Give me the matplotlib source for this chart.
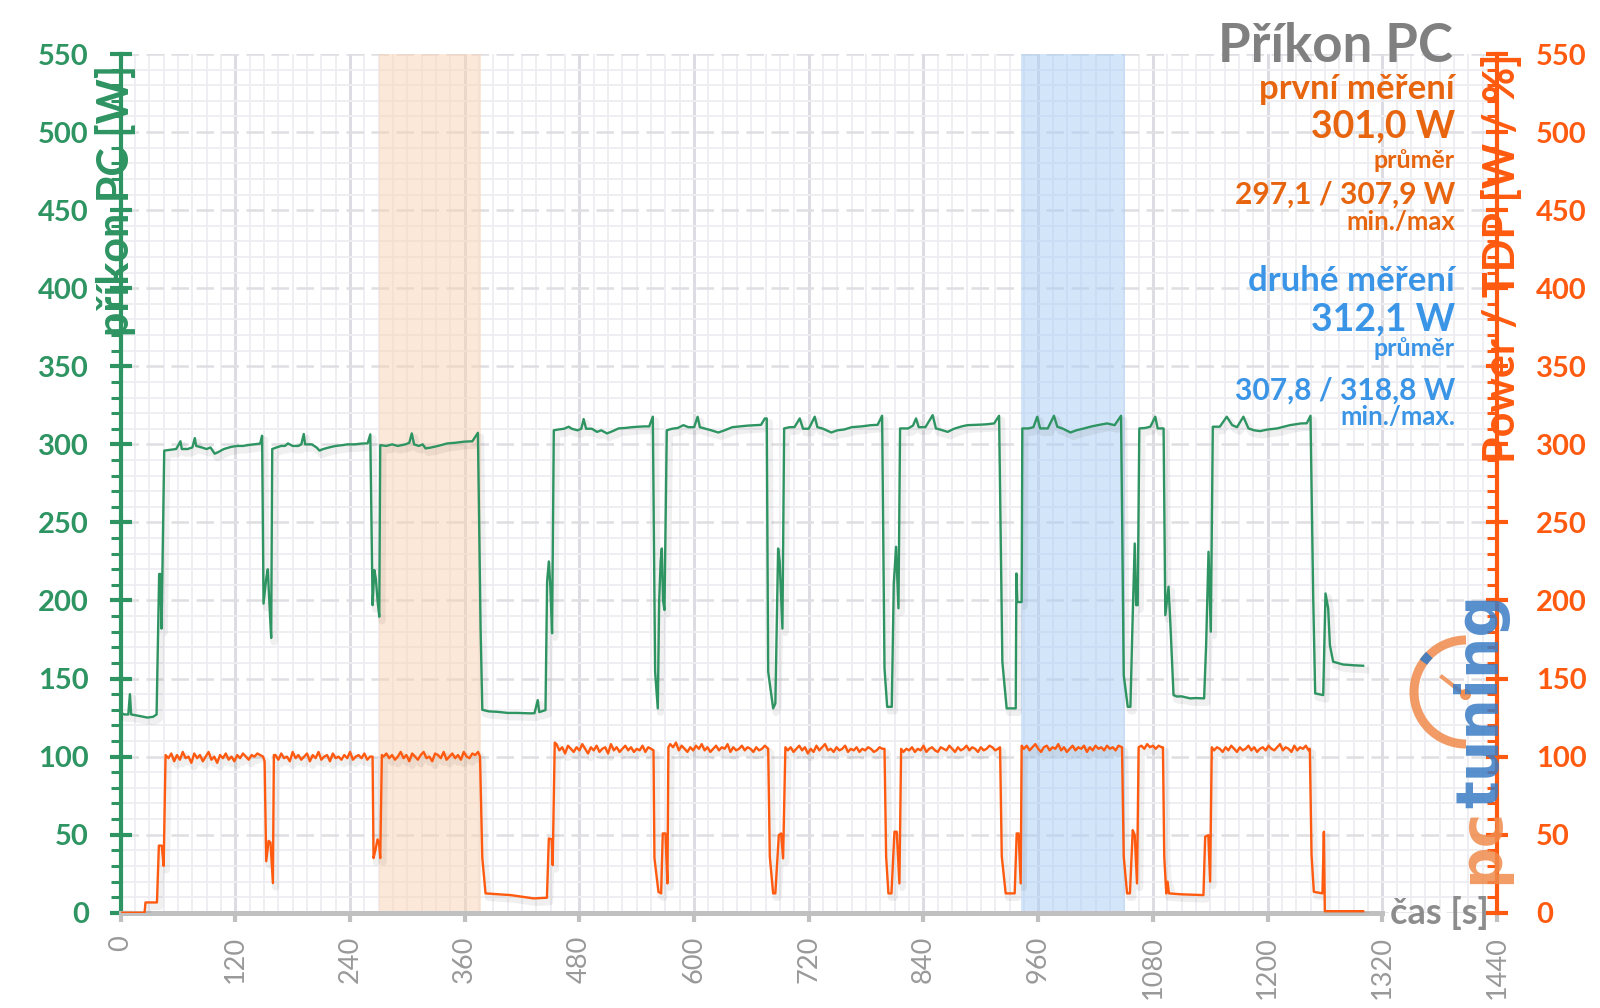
import matplotlib
matplotlib.use("Agg")
import matplotlib.pyplot as plt
import matplotlib.patheffects as pe
from matplotlib.patches import Arc
from matplotlib.lines import Line2D
from matplotlib.ticker import MultipleLocator
from matplotlib.transforms import blended_transform_factory

plt.rcParams['font.family'] = ['Lato', 'DejaVu Sans']

GREEN = '#2e9462'
ORANGE = '#ff5a0f'
ORANGE_TXT = '#e8650f'
BLUE_TXT = '#3b95e6'
GREY = '#8c8c8c'

# příkon PC [W] (time s, W)
green_trace = [
    (0, 128), (4, 127), (8, 127), (9.7, 140), (11, 127), (20, 126), (28, 125), (34, 125.5),
    (37.6, 127), (38.6, 161), (40.3, 217), (41.5, 217), (42.8, 182), (45.6, 296),
    (52, 296.5), (58, 297), (60, 299), (62.6, 302), (64, 297), (70, 297), (75, 298),
    (77.6, 304), (79, 299), (85, 298), (90, 297), (94, 298), (98.4, 294), (102, 295),
    (108, 297), (115.8, 298.4), (122, 299), (128, 299), (133, 299.5), (140, 300),
    (146, 300.5), (148, 305.5), (149.5, 198), (152.3, 214), (154, 220), (155.5, 200),
    (157.5, 176), (158.6, 297), (163, 298), (168, 299), (172, 299), (175, 300.6),
    (180, 299), (186, 299), (189, 300), (191.6, 306.6), (193, 300), (200, 300),
    (205, 298), (208, 296), (212, 297), (218, 298), (225, 299), (232, 299.5),
    (237.5, 300), (245, 300), (252, 300.5), (258.4, 300.6), (261.2, 306.4),
    (263.6, 197), (265.4, 219.5), (267, 214), (268.8, 200), (270.6, 189.6),
    (271.6, 299.5), (278, 299), (284, 300), (290, 299), (298, 300), (302, 301),
    (304.6, 307), (307, 300), (312, 299), (316, 300), (319, 297.4), (325, 298),
    (332, 299), (341.9, 300.6), (350, 301), (359, 301.7), (368, 302), (373.8, 307.4),
    (376.6, 182), (378.4, 130), (385, 129), (394, 128.7), (405, 128), (415, 128),
    (428.8, 127.7), (433, 127.8), (436.4, 136.2), (438, 128.5), (444.5, 129.8),
    (446.2, 212), (448, 225), (449.5, 210), (451.4, 179), (453.2, 309),
    (458, 309.5), (464, 310), (468.8, 311.3), (472, 310), (478, 309), (482, 310),
    (484.4, 316.2), (487, 310), (493, 310), (498.4, 308), (503, 309), (508.8, 307),
    (515, 308.5), (521, 310.2), (528, 310.5), (535, 311), (541.8, 311.3), (548, 311.5),
    (553, 311.5), (556.8, 317.7), (559.2, 154.4), (562, 130.9), (563.4, 199),
    (565, 225), (566.2, 233.3), (567.5, 200), (569, 193.9), (571.4, 309), (577, 310),
    (583, 310.5), (588.8, 312.3), (594, 311), (600, 311), (603.7, 317.7), (606, 311),
    (612, 310), (618, 309), (625.3, 307.6), (632, 309), (640, 311), (648, 311.5),
    (656, 312), (663.6, 312.3), (670, 312.5), (674, 316.6), (676, 316.6),
    (677.5, 154.4), (682.7, 130.9), (685, 134), (687.9, 233.3), (689.5, 225),
    (692.4, 182), (694.2, 310.2), (700, 311), (705, 311), (710.5, 316.6), (714, 310),
    (720, 310), (726.2, 317.7), (729, 311), (735, 310), (743.5, 307.6), (750, 309),
    (757, 309.5), (765, 311), (775, 311.5), (785.3, 312.3), (792, 312.5),
    (796.7, 318.3), (799.2, 156.5), (802, 131.9), (806.8, 131.9), (808.9, 211),
    (811.3, 234.4), (813.8, 195), (815.5, 310.2), (824, 310.2), (829, 312),
    (832.2, 316.6), (835, 311), (842, 311), (849.6, 318.7), (853, 310.2), (860, 309),
    (865.3, 308), (872, 310), (880, 311.5), (886, 312.3), (895, 312.5), (905, 312.8),
    (913.9, 313.4), (919.1, 318.3), (922.5, 160.8), (927, 130.9), (936.5, 130.9),
    (937.2, 217.3), (938.2, 199), (942.7, 199), (943.4, 310.2), (950, 310.2),
    (955, 311), (959, 317.7), (962, 310.2), (970, 310.2), (976.5, 318.3),
    (980, 311.3), (986, 310), (993.8, 307.6), (1000, 309), (1008, 310.2),
    (1016, 311.5), (1024, 312.5), (1032.1, 313.4), (1040, 312.3), (1046.7, 318.3),
    (1049.5, 152.2), (1053.7, 131.9), (1056.5, 131.9), (1058.9, 190.6),
    (1061, 236.5), (1062.5, 197), (1064.1, 197), (1065.8, 310.2), (1072, 310.5),
    (1077.3, 311.3), (1082.5, 317.7), (1085, 310.2), (1091.2, 310.2), (1093, 190.6),
    (1096.4, 208.8), (1098.2, 186.4), (1101.6, 139.4), (1105, 138.5), (1110, 138.6),
    (1119, 137.3), (1125, 137.5), (1133.6, 137.3), (1135.7, 171.4), (1138.2, 231.2),
    (1140.6, 180), (1142.7, 311.3), (1150, 311.3), (1157.3, 317.7), (1163, 312.3),
    (1168, 311), (1174.7, 317.7), (1180, 310.2), (1186, 309), (1192.1, 308.5),
    (1200, 309.5), (1210, 310.2), (1223.4, 312.3), (1235, 313.4), (1241, 313.5),
    (1244.9, 318.3), (1247.7, 203.5), (1249.8, 140.5), (1258.2, 139.4),
    (1260.6, 204.5), (1263.4, 195), (1265.2, 171.4), (1268.6, 160.8), (1279, 159),
    (1290, 158.5), (1300, 158.2),
]

# Power / TDP [W / %] (time s, W)
orange_trace = [
    (0, 0), (25, 0), (26, 6.6), (38, 6.6), (40, 43), (43, 43), (45, 30), (47, 101),
    (50, 99), (53, 102), (56, 97), (59, 101), (62, 98), (65, 103), (68, 99), (71, 100),
    (74, 96), (77, 102), (80, 99), (83, 101), (86, 97), (89, 100), (92, 103), (95, 98),
    (98, 100), (101, 96), (104, 101), (107, 99), (110, 102), (113, 98), (116, 100),
    (119, 97), (122, 101), (125, 99), (128, 102), (131, 100), (134, 98), (137, 101),
    (140, 100), (143, 102), (146, 101),
    (149, 100), (150.6, 97), (152.3, 33), (154.8, 46), (156.8, 45), (159.3, 19), (160.3, 101),
    (162, 101), (165, 98), (168, 102), (171, 99), (174, 100), (177, 97), (180, 103),
    (183, 99), (186, 101), (189, 98), (192, 100), (195, 102), (198, 97), (201, 101),
    (204, 99), (207, 103), (210, 98), (213, 100), (216, 101), (219, 97), (222, 102),
    (225, 99), (228, 100), (231, 98), (234, 101), (237, 99), (240, 103), (243, 98),
    (246, 100), (249, 101), (252, 99), (255, 102), (258, 98), (261, 100),
    (263.6, 100), (264.6, 35), (266.5, 40), (268.8, 47), (270.5, 44), (271.6, 35), (273.3, 101),
    (275, 100), (278, 102), (281, 99), (284, 101), (287, 98), (290, 100), (293, 103),
    (296, 99), (299, 101), (302, 97), (305, 102), (308, 100), (311, 98), (314, 101),
    (317, 103), (320, 99), (323, 100), (326, 97), (329, 102), (332, 101), (335, 99),
    (338, 103), (341, 98), (344, 100), (347, 102), (350, 99), (353, 101), (356, 98),
    (359, 103), (362, 100), (365, 99), (368, 102), (371, 101), (374, 103),
    (376, 100), (378.4, 35), (381.8, 12.4), (408, 11.3), (432, 9.2), (446, 9.6),
    (448, 47.6), (451, 47), (452, 30.5), (454.2, 109),
    (456, 108), (459, 104), (462, 106), (465, 102), (468, 107), (471, 105), (474, 103),
    (477, 106), (480, 104), (483, 108), (486, 105), (489, 102), (492, 106), (495, 104),
    (498, 107), (501, 103), (504, 105), (507, 106), (510, 102), (513, 108), (516, 104),
    (519, 106), (522, 103), (525, 105), (528, 107), (531, 104), (534, 106), (537, 103),
    (540, 105), (543, 104), (546, 107), (549, 103), (552, 106), (555, 105),
    (557.5, 104), (558.5, 35), (562.7, 13.4), (565.5, 12.4), (567.2, 50.8), (570, 50.8),
    (572.1, 18.8), (573.1, 106),
    (575, 108), (578, 106), (581, 109), (584, 104), (587, 107), (590, 105), (593, 103),
    (596, 106), (599, 104), (602, 107), (605, 105), (608, 108), (611, 104), (614, 106),
    (617, 103), (620, 105), (623, 107), (626, 104), (629, 106), (632, 105), (635, 108),
    (638, 103), (641, 106), (644, 104), (647, 105), (650, 107), (653, 104), (656, 106),
    (659, 105), (662, 103), (665, 106), (668, 104), (671, 105), (674, 107),
    (677.5, 105), (679.2, 36), (682.7, 12.4), (685, 12.4), (688.6, 49.7), (691, 50.8),
    (693.1, 34.8), (695.5, 106),
    (698, 104), (701, 106), (704, 103), (707, 105), (710, 107), (713, 104), (716, 106),
    (719, 102), (722, 105), (725, 103), (728, 107), (731, 104), (734, 106), (737, 108),
    (740, 104), (743, 105), (746, 103), (749, 106), (752, 104), (755, 105), (758, 107),
    (761, 103), (764, 105), (767, 104), (770, 106), (773, 103), (776, 105), (779, 104),
    (782, 106), (785, 105), (788, 103), (791, 104), (794, 106), (797, 105),
    (799.2, 105), (800.9, 36), (803.3, 12.4), (806.5, 12.4), (809.6, 51.9), (812, 51.9),
    (814.8, 18.8), (816.6, 105),
    (819, 103), (822, 105), (825, 104), (828, 106), (831, 103), (834, 105), (837, 104),
    (840, 107), (843, 103), (846, 105), (849, 106), (852, 104), (855, 103), (858, 106),
    (861, 105), (864, 104), (867, 107), (870, 105), (873, 103), (876, 106), (879, 104),
    (882, 105), (885, 107), (888, 104), (891, 106), (894, 105), (897, 103), (900, 106),
    (903, 104), (906, 105), (909, 107), (912, 106), (915, 104), (918, 105),
    (920.1, 106), (921.9, 36), (926, 12.4), (935.4, 12.4), (937.5, 50.8), (939.5, 50.8),
    (941.7, 18.8), (942.7, 107),
    (945, 105), (948, 107), (951, 104), (954, 106), (957, 108), (960, 105), (963, 103),
    (966, 106), (969, 107), (972, 104), (975, 106), (978, 105), (981, 108), (984, 104),
    (987, 106), (990, 103), (993, 105), (996, 107), (999, 104), (1002, 106), (1005, 105),
    (1008, 107), (1011, 103), (1014, 106), (1017, 104), (1020, 107), (1023, 105),
    (1026, 106), (1029, 104), (1032, 107), (1035, 105), (1038, 106), (1041, 104),
    (1044, 107),
    (1047.7, 106), (1049.5, 36), (1053, 12.4), (1056, 12.4), (1058.9, 52.9), (1061, 49.7),
    (1063.4, 18.8), (1065.1, 106),
    (1068, 107), (1071, 105), (1074, 108), (1077, 106), (1080, 107), (1083, 105),
    (1086, 107), (1089, 106),
    (1090.5, 106), (1091.9, 36), (1094, 12.4), (1095.4, 19.9), (1096.8, 12.4), (1110, 11.8),
    (1132.9, 11.3), (1134.7, 48.7), (1138, 49.7), (1139.9, 19.9), (1141.6, 106),
    (1144, 104), (1147, 106), (1150, 105), (1153, 103), (1156, 106), (1159, 104),
    (1162, 107), (1165, 105), (1168, 103), (1171, 106), (1174, 104), (1177, 105),
    (1180, 107), (1183, 104), (1186, 106), (1189, 103), (1192, 105), (1195, 106),
    (1198, 104), (1201, 107), (1204, 105), (1207, 104), (1210, 106), (1213, 108),
    (1216, 104), (1219, 106), (1222, 105), (1225, 103), (1228, 107), (1231, 104),
    (1234, 106), (1237, 105), (1240, 107), (1243, 104),
    (1244.2, 105), (1246, 36.9), (1248.4, 13.4), (1257.4, 12.4), (1258.9, 51.9),
    (1259.9, 1), (1300, 1),
]

first_span = (270, 377)
second_span = (942, 1051)

x_ticks = [0, 120, 240, 360, 480, 600, 720, 840, 960, 1080, 1200, 1320, 1440]
y_ticks = [0, 50, 100, 150, 200, 250, 300, 350, 400, 450, 500, 550]

first_texts = ['první měření', '301,0 W', 'průměr', '297,1 / 307,9 W', 'min./max']
second_texts = ['druhé měření', '312,1 W', 'průměr', '307,8 / 318,8 W', 'min./max.']


def fx(px):
    return px / 1600


def fy(py):
    return 1 - py / 1008


fig = plt.figure(figsize=(16, 10.08), dpi=100)
ax = fig.add_axes([0.0754, 0.0945, 0.8602, 0.8519])
ax.set_xlim(0, 1440)
ax.set_ylim(0, 550)

# grid
ax.set_axisbelow(True)
ax.xaxis.set_minor_locator(MultipleLocator(15))
ax.yaxis.set_minor_locator(MultipleLocator(10))
ax.grid(which='minor', color='#eeeef2', lw=1.3)
ax.grid(which='major', axis='x', color='#dcdce2', lw=2.2)
ax.grid(which='major', axis='y', color='#dedee3', lw=1.8, ls=(0, (7, 3)))

ax.axvspan(*first_span, color='#fbd3b3', alpha=0.5, lw=0, zorder=1)
ax.axvspan(*second_span, color='#a8cdf5', alpha=0.5, lw=0, zorder=1)

shadow = [pe.SimpleLineShadow(offset=(2, -3), shadow_color='#000000', alpha=0.06, linewidth=5),
          pe.Normal()]
gt, gw = zip(*green_trace)
ot, ow = zip(*orange_trace)
ax.plot(gt, gw, color=GREEN, lw=1.7, zorder=4, path_effects=shadow, solid_joinstyle='round')
ax.plot(ot, ow, color=ORANGE, lw=1.7, zorder=4, path_effects=shadow, solid_joinstyle='round')

# spines
for s in ['top', 'right']:
    ax.spines[s].set_visible(False)
ax.spines['left'].set_color(GREEN)
ax.spines['left'].set_linewidth(3)
ax.spines['bottom'].set_color('#c0c0c0')
ax.spines['bottom'].set_linewidth(3.6)
ax.spines['bottom'].set_bounds(0, 1320)

ax.set_xticks(x_ticks, labels=[str(v) for v in x_ticks], rotation=90,
              fontsize=19.5, color='#999999')
ax.tick_params(axis='x', which='major', direction='out', length=6.5, width=3,
               color='#c0c0c0', pad=10)
ax.tick_params(axis='x', which='minor', length=0)

ax.set_yticks(y_ticks, labels=[str(v) for v in y_ticks], fontsize=21,
              fontweight='bold', color=GREEN)
ax.tick_params(axis='y', which='major', direction='inout', length=16, width=3,
               color=GREEN, pad=15)
ax.tick_params(axis='y', which='minor', direction='out', length=7, width=2.2, color=GREEN)

ax2 = ax.twinx()
ax2.set_ylim(0, 550)
for s in ['top', 'left', 'bottom']:
    ax2.spines[s].set_visible(False)
ax2.spines['right'].set_color(ORANGE)
ax2.spines['right'].set_linewidth(3)
ax2.yaxis.set_minor_locator(MultipleLocator(10))
ax2.set_yticks(y_ticks, labels=[str(v) for v in y_ticks], fontsize=21,
               fontweight='bold', color=ORANGE)
ax2.tick_params(axis='y', which='major', direction='inout', length=16, width=3,
                color=ORANGE, pad=20)
ax2.tick_params(axis='y', which='minor', direction='in', length=7, width=2.2, color=ORANGE)

# axis titles
tl = blended_transform_factory(ax.transAxes, ax.transData)
ax.text(-0.004, 456, 'příkon PC [W]', transform=tl, rotation=90, ha='center', va='center',
        fontsize=31, fontweight='bold', color=GREEN, zorder=6, clip_on=False)
tr = blended_transform_factory(ax2.transAxes, ax2.transData)
ax2.text(1.003, 419, 'Power / TDP [W / %]', transform=tr, rotation=90, ha='center',
         va='center', fontsize=31, fontweight='bold', color=ORANGE, zorder=6, clip_on=False)
ax.text(1328, 0, 'čas [s]', ha='left', va='center', fontsize=26, fontweight='bold',
        color=GREY, zorder=6, clip_on=False)

# title and summary block
fig.text(fx(1453), fy(46), 'Příkon PC', ha='right', va='center', fontsize=38,
         fontweight='bold', color='#808080')
sizes = [25, 27, 18, 21.6, 18.5]
first_y = [89, 126, 161, 195, 222]
second_y = [281, 319, 348, 391, 417]
for txt, sz, yy in zip(first_texts, sizes, first_y):
    fig.text(fx(1455), fy(yy), txt, ha='right', va='center', fontsize=sz,
             fontweight='bold', color=ORANGE_TXT)
for txt, sz, yy in zip(second_texts, sizes, second_y):
    fig.text(fx(1455), fy(yy), txt, ha='right', va='center', fontsize=sz,
             fontweight='bold', color=BLUE_TXT)

# pctuning logo
logo_o = '#f08a4b'
fig.add_artist(Arc((fx(1466), fy(692)), 2 * 52 / 1600, 2 * 52 / 1008, theta1=90, theta2=270,
                   transform=fig.transFigure, color=logo_o, lw=6.5, alpha=0.85))
fig.add_artist(Arc((fx(1466), fy(692)), 2 * 52 / 1600, 2 * 52 / 1008, theta1=122, theta2=132,
                   transform=fig.transFigure, color='#3a7cc4', lw=6.5, alpha=0.9))
fig.add_artist(Line2D([fx(1442), fx(1464)], [fy(677), fy(694)], transform=fig.transFigure,
                      color=logo_o, lw=3, alpha=0.85))
fig.add_artist(Line2D([fx(1465)], [fy(694)], transform=fig.transFigure, marker='o', ms=7,
                      color=logo_o, alpha=0.85))
fig.text(fx(1510), fy(808), 'tuning', rotation=90, ha='right', va='bottom', fontsize=42,
         fontweight='bold', color='#3a7cc4', alpha=0.85, family='DejaVu Sans')
fig.text(fx(1510), fy(808), 'pc', rotation=90, ha='right', va='top', fontsize=42,
         fontweight='bold', color=logo_o, alpha=0.85, family='DejaVu Sans')

fig.savefig('out.png', dpi=100, facecolor='white')
